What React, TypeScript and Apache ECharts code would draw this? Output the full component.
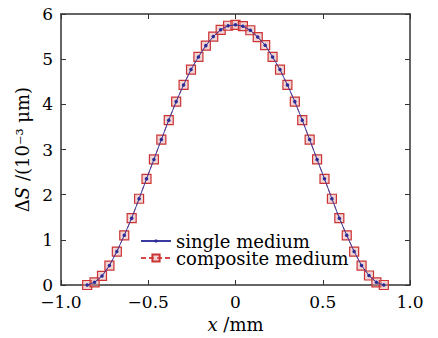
import React, { useEffect, useRef } from "react";
import * as echarts from "echarts";

const xValues = [
  -0.85, -0.8075, -0.765, -0.7225, -0.68, -0.6375, -0.595, -0.5525, -0.51, -0.4675,
  -0.425, -0.3825, -0.34, -0.2975, -0.255, -0.2125, -0.17, -0.1275, -0.085, -0.0425,
  0, 0.0425, 0.085, 0.1275, 0.17, 0.2125, 0.255, 0.2975, 0.34, 0.3825,
  0.425, 0.4675, 0.51, 0.5525, 0.595, 0.6375, 0.68, 0.7225, 0.765, 0.8075, 0.85,
];
const singleMedium = [
  0, 0.06, 0.2, 0.43, 0.74, 1.1, 1.48, 1.91, 2.35, 2.78,
  3.22, 3.65, 4.06, 4.43, 4.77, 5.05, 5.3, 5.5, 5.65, 5.74,
  5.76, 5.73, 5.64, 5.49, 5.31, 5.05, 4.77, 4.43, 4.06, 3.65,
  3.22, 2.78, 2.35, 1.91, 1.48, 1.1, 0.74, 0.43, 0.21, 0.06, 0,
];
const compositeMedium = [
  0, 0.06, 0.2, 0.43, 0.74, 1.1, 1.48, 1.91, 2.35, 2.78,
  3.22, 3.65, 4.06, 4.43, 4.77, 5.05, 5.3, 5.5, 5.65, 5.74,
  5.76, 5.73, 5.64, 5.49, 5.31, 5.05, 4.77, 4.43, 4.06, 3.65,
  3.22, 2.78, 2.35, 1.91, 1.48, 1.1, 0.74, 0.43, 0.21, 0.06, 0,
];
const seriesNames = ["single medium", "composite medium"];

const FONT = "DejaVu Serif";
const AXIS_COLOR = "#333";

export default function App() {
  const ref = useRef<HTMLDivElement>(null);
  useEffect(() => {
    if (!ref.current) return;
    const chart = echarts.init(ref.current, null, { renderer: "svg" });
    const axisCommon = {
      axisLine: { show: true, onZero: false, lineStyle: { color: AXIS_COLOR, width: 1.5 } },
      axisTick: { show: true, inside: true, length: 5, lineStyle: { color: AXIS_COLOR, width: 1 } },
      splitLine: { show: false },
    };
    const legendText = { fontFamily: FONT, fontSize: 18, color: "#000" };
    chart.setOption({
      animation: false,
      backgroundColor: "#ffffff",
      grid: { left: 61, right: 28, top: 14, bottom: 52 },
      legend: [
        {
          orient: "vertical",
          left: 135,
          top: 227,
          itemWidth: 30,
          itemHeight: 4,
          data: [seriesNames[0]],
          textStyle: legendText,
        },
        {
          orient: "vertical",
          left: 135,
          top: 244,
          itemWidth: 30,
          itemHeight: 9,
          data: [seriesNames[1]],
          textStyle: legendText,
        },
      ],
      xAxis: [
        {
          type: "value",
          min: -1,
          max: 1,
          interval: 0.5,
          position: "bottom",
          ...axisCommon,
          axisLabel: {
            margin: 8,
            fontFamily: FONT,
            fontSize: 17,
            color: "#000",
            formatter: (v: number) => {
              if (Math.abs(v) < 1e-9) return "0";
              return (Math.abs(v) === 1 ? v.toFixed(1) : String(v)).replace("-", "\u2212");
            },
          },
          name: "{i|x} /mm",
          nameLocation: "middle",
          nameGap: 30,
          nameTextStyle: {
            fontFamily: FONT,
            fontSize: 18,
            color: "#000",
            rich: { i: { fontFamily: FONT, fontStyle: "italic", fontSize: 18, color: "#000" } },
          },
        },
        {
          type: "value",
          min: -1,
          max: 1,
          interval: 0.5,
          position: "top",
          ...axisCommon,
          axisLabel: { show: false },
        },
      ],
      yAxis: [
        {
          type: "value",
          min: 0,
          max: 6,
          interval: 1,
          position: "left",
          ...axisCommon,
          axisLabel: {
            margin: 8,
            fontFamily: FONT,
            fontSize: 17,
            color: "#000",
            formatter: (v: number) => String(Math.round(v)),
          },
          name: "\u0394{i|S} /(10\u207B\u00B3 \u03BCm)",
          nameLocation: "middle",
          nameGap: 30,
          nameRotate: 90,
          nameTextStyle: {
            fontFamily: FONT,
            fontSize: 18,
            color: "#000",
            rich: { i: { fontFamily: FONT, fontStyle: "italic", fontSize: 18, color: "#000" } },
          },
        },
        {
          type: "value",
          min: 0,
          max: 6,
          interval: 1,
          position: "right",
          ...axisCommon,
          axisLabel: { show: false },
        },
      ],
      series: [
        {
          name: seriesNames[0],
          type: "line",
          data: xValues.map((x, i) => [x, singleMedium[i]]),
          symbol: "circle",
          symbolSize: 3.5,
          z: 5,
          color: "#2b2b96",
          lineStyle: { color: "#3a3aa0", width: 1 },
          itemStyle: { color: "#2b2b96" },
        },
        {
          name: seriesNames[1],
          type: "line",
          data: xValues.map((x, i) => [x, compositeMedium[i]]),
          symbol: "rect",
          symbolSize: 9,
          z: 3,
          color: "#cc3b3b",
          lineStyle: { color: "#d04848", width: 1, type: [5, 3] },
          itemStyle: { color: "rgba(225,160,160,0.45)", borderColor: "#cc3333", borderWidth: 1.2 },
        },
      ],
    });
    return () => chart.dispose();
  }, []);
  return (
    <div
      ref={ref}
      style={{ position: "fixed", left: 0, top: 0, width: 438, height: 338, background: "#fff" }}
    />
  );
}
